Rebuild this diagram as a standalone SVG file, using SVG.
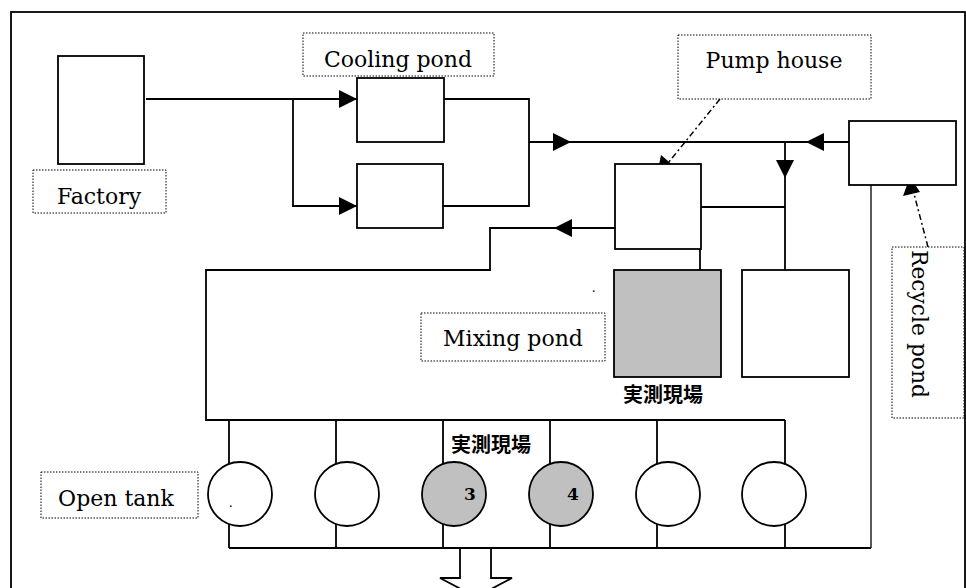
<svg xmlns="http://www.w3.org/2000/svg" width="966" height="588" viewBox="0 0 966 588">
<style>
  .box{fill:#fff;stroke:#000;stroke-width:1.8}
  .gray{fill:#c0c0c0;stroke:#000;stroke-width:1.8}
  .ln{fill:none;stroke:#000;stroke-width:1.8}
  .thin{fill:none;stroke:#000;stroke-width:1.3}
  .lbl{fill:#fff;stroke:#000;stroke-width:1;stroke-dasharray:1.5,1.5}
  .lead{fill:none;stroke:#000;stroke-width:1.5;stroke-dasharray:6,3,2,3}
  .t{font-family:"DejaVu Serif","Liberation Serif",serif;font-size:22px;fill:#000}
  .jp{font-family:"Noto Sans CJK JP","Noto Sans CJK SC",sans-serif;font-size:20px;font-weight:bold;fill:#000}
  .num{font-family:"DejaVu Serif","Liberation Serif",serif;font-size:17px;font-weight:bold;fill:#000}
  .dot{font-family:"Liberation Serif",serif;font-size:14px;fill:#000}
</style>
<defs>
  <marker id="ah" viewBox="0 0 18 18" refX="18" refY="9" markerWidth="18" markerHeight="18" markerUnits="userSpaceOnUse" orient="auto">
    <path d="M0,0 L18,9 L0,18 Z" fill="#000"/>
  </marker>
</defs>
<rect x="0" y="0" width="966" height="588" fill="#fff"/>
<rect id="frame" x="11" y="12" width="954" height="590" fill="none" stroke="#000" stroke-width="1.8"/>

<g id="connectors">
  <path class="ln" d="M146,99 H357" marker-end="url(#ah)"/>
  <path class="ln" d="M293,99 V206 H357" marker-end="url(#ah)"/>
  <path class="ln" d="M444,99 H529 V206 H443"/>
  <path class="ln" d="M529,142 H571" marker-end="url(#ah)"/>
  <path class="ln" d="M571,142 H849"/>
  <path class="ln" d="M849,142 H806" marker-end="url(#ah)"/>
  <path class="ln" d="M785,142 V178" marker-end="url(#ah)"/>
  <path class="ln" d="M785,178 V270"/>
  <path class="ln" d="M701,207 H785"/>
  <path class="ln" d="M615,228 H554" marker-end="url(#ah)"/>
  <path class="ln" d="M554,228 H490 V270 H206 V420 H785"/>
  <path class="ln" d="M700,249 V270"/>
  <path class="ln" d="M229,420 V548 M336,420 V548 M443,420 V548 M550,420 V548 M657,420 V548 M785,420 V548"/>
  <path class="ln" d="M229,548 H871"/>
  <path class="thin" d="M871,181 V548"/>
  <path class="ln" d="M460,548 V578 H440 L476,597 L512,578 H491 V548"/>
  <path class="lead" d="M720,99 L664,168"/>
  <path d="M657,175 L661,155 L675,167 Z" fill="#000"/>
  <path class="lead" d="M928,247 L913,190"/>
  <path d="M910,177 L903,196 L920,192 Z" fill="#000"/>
</g>

<g id="factory"><rect class="box" x="58" y="56" width="86" height="108"/></g>
<g id="factory-label"><rect class="lbl" x="33" y="170" width="133" height="43"/><text class="t" x="99" y="204" text-anchor="middle">Factory</text></g>
<g id="cooling1"><rect class="box" x="357" y="78" width="87" height="64"/></g>
<g id="cooling2"><rect class="box" x="357" y="164" width="86" height="64"/></g>
<g id="cooling-label"><rect class="lbl" x="303" y="33" width="191" height="43"/><text class="t" x="398" y="67" text-anchor="middle">Cooling pond</text></g>
<g id="pump"><rect class="box" x="615" y="164" width="86" height="85"/></g>
<g id="pump-label"><rect class="lbl" x="678" y="35" width="193" height="64"/><text class="t" x="774" y="68" text-anchor="middle">Pump house</text></g>
<g id="recycle"><rect class="box" x="849" y="121" width="107" height="64"/></g>
<g id="recycle-label"><rect class="lbl" x="892" y="247" width="72" height="171"/><text class="t" transform="translate(912,250) rotate(90)" x="0" y="0" textLength="148" lengthAdjust="spacingAndGlyphs">Recycle pond</text></g>
<g id="mixing"><rect class="gray" x="614" y="270" width="107" height="107"/></g>
<g id="mixing2"><rect class="box" x="742" y="270" width="107" height="107"/></g>
<g id="mixing-label"><rect class="lbl" x="421" y="313" width="184" height="48"/><text class="t" x="513" y="346" text-anchor="middle">Mixing pond</text></g>
<text class="jp" x="663" y="402" text-anchor="middle">実測現場</text>
<text class="jp" x="491" y="452" text-anchor="middle">実測現場</text>
<text class="dot" x="592" y="292">.</text>

<g id="tank1"><circle class="box" cx="240" cy="494" r="32"/><text class="dot" x="229" y="507">.</text></g>
<g id="tank2"><circle class="box" cx="347" cy="494" r="32"/></g>
<g id="tank3"><circle class="gray" cx="454" cy="494" r="32"/><text class="num" x="470" y="500" text-anchor="middle">3</text></g>
<g id="tank4"><circle class="gray" cx="561" cy="494" r="32"/><text class="num" x="573" y="500" text-anchor="middle">4</text></g>
<g id="tank5"><circle class="box" cx="668" cy="494" r="32"/></g>
<g id="tank6"><circle class="box" cx="774" cy="494" r="32"/></g>
<g id="tank-label"><rect class="lbl" x="41" y="472" width="157" height="46"/><text class="t" x="116" y="506" text-anchor="middle">Open tank</text></g>
</svg>
